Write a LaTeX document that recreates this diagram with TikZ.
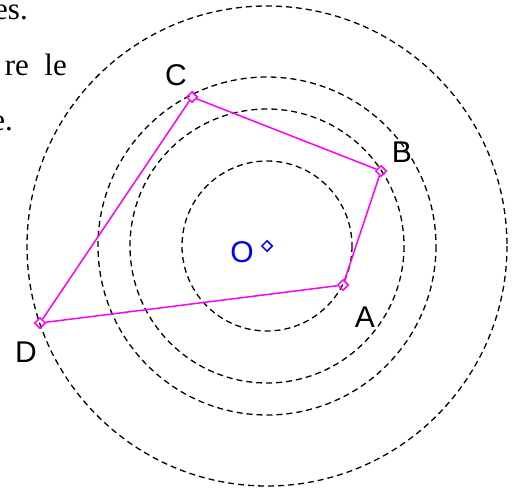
\documentclass[tikz,border=0pt]{standalone}
\usepackage{fontspec}
\setmainfont{Liberation Serif}
\newfontfamily\labelfont{Liberation Sans}
\usetikzlibrary{shapes.geometric}
\definecolor{mag}{RGB}{255,0,255}
\definecolor{bleu}{RGB}{0,0,255}
\tikzset{
  rond/.style={black, line width=1.3pt, dash pattern=on 6pt off 4pt},
  marque/.style={diamond, draw=mag, line width=1.5pt, inner sep=0pt, minimum size=11pt},
  etiq/.style={font=\labelfont\fontsize{30}{30}\selectfont}
}
\begin{document}
\begin{tikzpicture}[x=1pt,y=-1pt]
        \useasboundingbox (0,0) rectangle (520,495);
        % Texte coupe
        \node[anchor=base east, inner sep=0pt, font=\fontsize{31}{31}\selectfont] (t1) at (28,20) {es.};
        \node[anchor=base east, inner sep=0pt, font=\fontsize{31}{31}\selectfont] (t2) at (67,76) {re\ \ le};
        \node[anchor=base east, inner sep=0pt, font=\fontsize{31}{31}\selectfont] (t3) at (13,130) {e.};

        % Centre
        \coordinate (O) at (267,246);

        % Cercles
        \draw[rond] (O) circle (85);
        \draw[rond] (O) circle (137);
        \draw[rond] (O) circle (169);
        \draw[rond] (O) circle (240);

        % Sommets
        \node[marque] (A) at (343,285) {};
        \node[marque] (B) at (381,171) {};
        \node[marque] (C) at (192,97) {};
        \node[marque] (D) at (40,323) {};
        \node[marque, draw=bleu] (Om) at (O) {};

        % Quadrilatere
        \draw[mag, line width=1.5pt] (A) -- (B) -- (C) -- (D) -- (A);

        % Noms
        \node[etiq] (lA) at (365,317) {A};
        \node[etiq] (lB) at (402,152) {B};
        \node[etiq] (lC) at (176,75) {C};
        \node[etiq] (lD) at (26,352) {D};
        \node[etiq, bleu] (lO) at (242,252) {O};
\end{tikzpicture}
\end{document}
